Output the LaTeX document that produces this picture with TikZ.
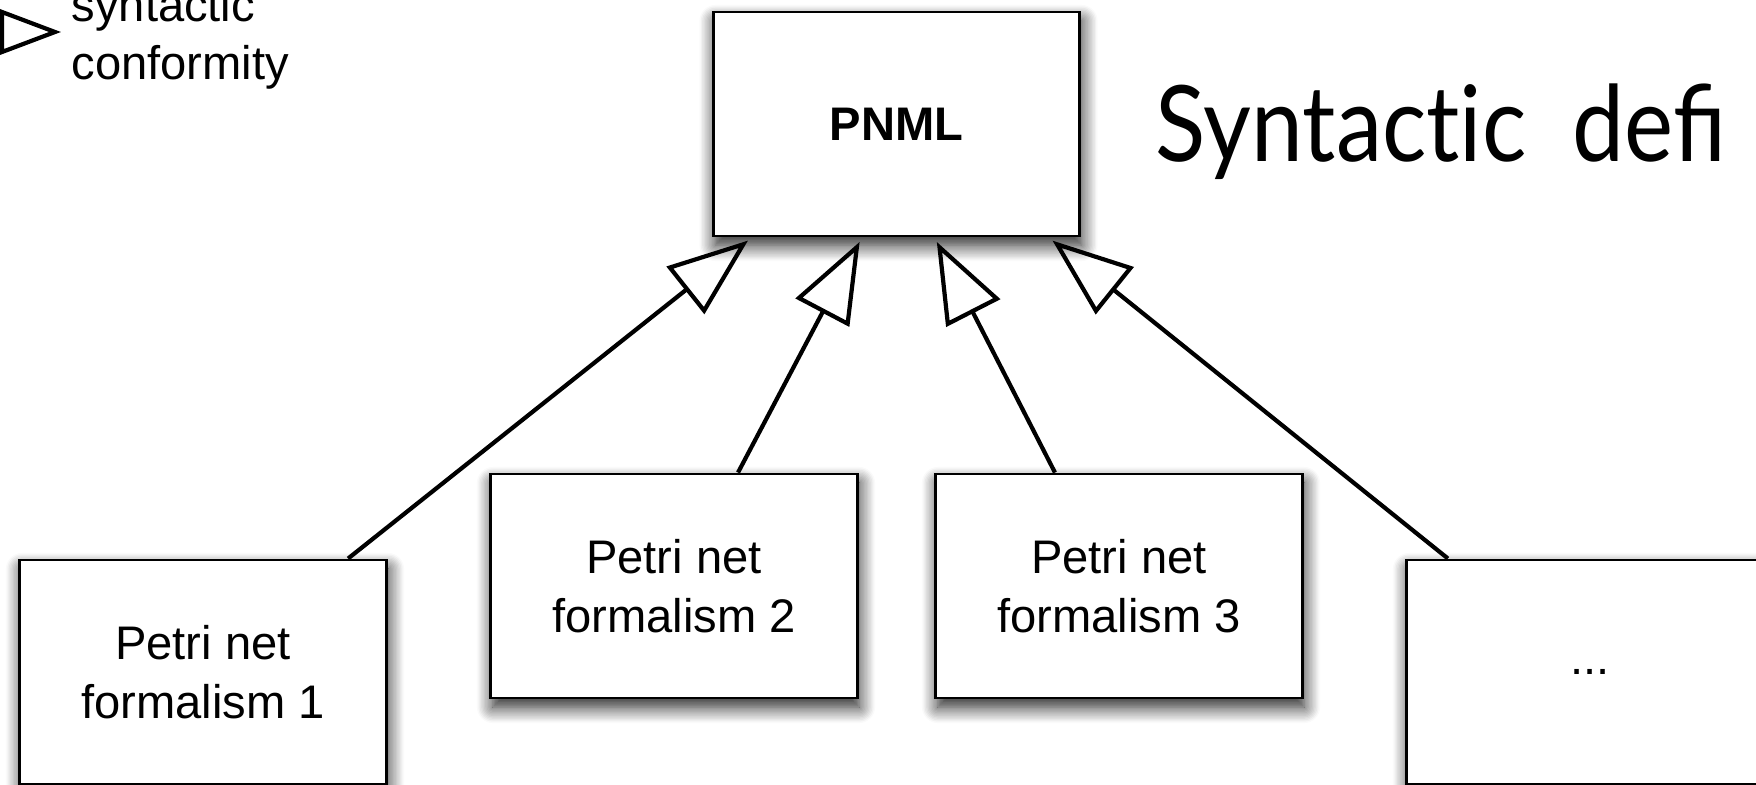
\documentclass[tikz,border=0pt]{standalone}
\usepackage{fontspec}
\setmainfont{Liberation Sans}
\newfontfamily\titlefont[FakeStretch=0.88]{Lato}
\usetikzlibrary{arrows.meta,shadows.blur}
\newcommand{\BW}{3.66cm}
\newcommand{\BH}{2.24cm}
\newcommand{\boxfont}{\fontsize{13.4}{16.6}\selectfont}

\begin{document}
\begin{tikzpicture}[
    x=0.01cm, y=-0.01cm,
    >={Triangle[open, length=0.8cm, width=0.6cm]},
    fbox/.style={draw=black, fill=white, line width=0.028cm, minimum width=\BW, minimum height=\BH,
      inner sep=0pt, align=center, font=\boxfont,
      blur shadow={shadow xshift=0.02cm, shadow yshift=-0.09cm, shadow blur radius=0.16cm,
        shadow blur steps=12, shadow opacity=90}},
    gen/.style={->, draw=black, line width=0.042cm, shorten >=0.05cm},
    legtri/.style={draw=black, line width=0.042cm, line join=miter},
    tag/.style={font=\boxfont, inner sep=0pt, align=left},
  ]
  \useasboundingbox (0,0) rectangle (1756,785);

  %% ================= the metamodel and its formalisms =================
  \node[fbox, font=\boxfont\bfseries] (pnml) at (896.5,124) {PNML};
  \node[fbox] (f1) at (203,672)  {Petri net\\formalism 1};
  \node[fbox] (f2) at (674,586)  {Petri net\\formalism 2};
  \node[fbox] (f3) at (1119,586) {Petri net\\formalism 3};
  \node[fbox] (f4) at (1590,672) {...};

  % every formalism conforms to the PNML core
  \draw[gen] ([xshift=1.45cm]f1.north)   -- ([xshift=-1.445cm]pnml.south);
  \draw[gen] ([xshift=0.64cm]f2.north)   -- ([xshift=-0.345cm]pnml.south);
  \draw[gen] ([xshift=-0.64cm]f3.north)  -- ([xshift=0.38cm]pnml.south);
  \draw[gen] ([xshift=-1.42cm]f4.north)  -- ([xshift=1.52cm]pnml.south);

  %% ================= legend and heading =================
  \draw[legtri] (2,12) -- (55,32) -- (2,52) -- cycle;
  \node[tag, anchor=base west] (legend) at (71,80) {syntactic\\conformity};

  \node[font=\titlefont\fontsize{30}{36}\selectfont, anchor=base west, inner sep=0pt] (title)
    at (1155,162) {Syntact\kern0pt ic\hspace{0.22cm} defi};

\end{tikzpicture}
\end{document}
